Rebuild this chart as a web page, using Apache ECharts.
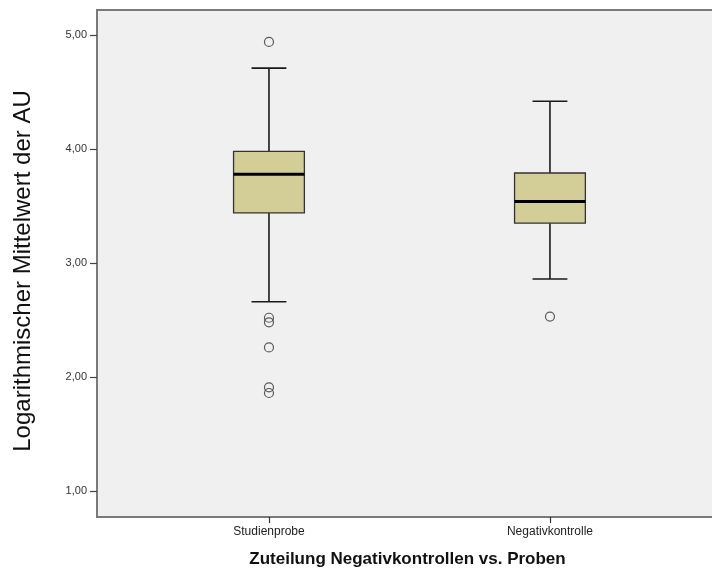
<!DOCTYPE html>
<html>
<head>
<meta charset="utf-8"/>
<title>Boxplot</title>
<script type="text/javascript" src="https://cdn.jsdelivr.net/npm/echarts@6/dist/echarts.min.js"></script>
<style type="text/css">
	body{
		margin: 0px;
		padding: 0px;
		background: #fff;
	}
	#chart{
		width: 712px;
		height: 572px;
	}
</style>
</head>
<body>
	<div id="chart"></div>
<script type="text/javascript">
	// Kategorien
	var categories = ['Studienprobe', 'Negativkontrolle'];
	// Boxplot-Kennwerte: [min, Q1, Median, Q3, max]
	var box_studie = [2.66, 3.44, 3.78, 3.98, 4.71];
	var box_negativ = [2.86, 3.35, 3.54, 3.79, 4.42];
	// Ausreisser
	var out_studie = [4.94, 2.52, 2.48, 2.26, 1.91, 1.86];
	var out_negativ = [2.53];
	// Achsenbeschriftung
	var y_ticks = [1, 2, 3, 4, 5];
	var x_ticks = [0, 1];

	var fontName = "'Liberation Sans', Arial, sans-serif";

	var boxData = [
		[0].concat(box_studie),
		[1].concat(box_negativ)
	];
	var outData = [];
	for (var i = 0; i < out_studie.length; i++) {
		outData.push([0, out_studie[i]]);
	}
	for (var j = 0; j < out_negativ.length; j++) {
		outData.push([1, out_negativ[j]]);
	}

	// Box zeichnen
	function renderBox(params, api) {
		var x = api.value(0);
		var lo = api.coord([x, api.value(1)]);
		var q1 = api.coord([x, api.value(2)]);
		var med = api.coord([x, api.value(3)]);
		var q3 = api.coord([x, api.value(4)]);
		var hi = api.coord([x, api.value(5)]);
		var unit = api.size([1, 0])[0];
		var hw = unit * 0.126;
		var cw = unit * 0.062;
		var cx = lo[0];
		var lineStyle = { stroke: '#1a1a1a', lineWidth: 1.6 };
		return {
			type: 'group',
			children: [
				{ type: 'line', shape: { x1: cx, y1: hi[1], x2: cx, y2: q3[1] }, style: lineStyle },
				{ type: 'line', shape: { x1: cx, y1: q1[1], x2: cx, y2: lo[1] }, style: lineStyle },
				{ type: 'line', shape: { x1: cx - cw, y1: hi[1], x2: cx + cw, y2: hi[1] }, style: lineStyle },
				{ type: 'line', shape: { x1: cx - cw, y1: lo[1], x2: cx + cw, y2: lo[1] }, style: lineStyle },
				{
					type: 'rect',
					shape: { x: cx - hw, y: q3[1], width: hw * 2, height: q1[1] - q3[1] },
					style: { fill: '#d3ce97', stroke: '#333', lineWidth: 1.3 }
				},
				{ type: 'line', shape: { x1: cx - hw, y1: med[1], x2: cx + hw, y2: med[1] }, style: { stroke: '#000', lineWidth: 3 } }
			]
		};
	}

	var myChart = echarts.init(document.getElementById('chart'));
	var option = {
		backgroundColor: '#fff',
		animation: false,
		grid: {
			left: 97,
			right: -6,
			top: 10,
			bottom: 55,
			outerBoundsMode: 'none',
			show: true,
			backgroundColor: '#f0f0f0',
			borderColor: '#7a7a7a',
			borderWidth: 2
		},
		xAxis: {
			type: 'value',
			min: -0.612,
			max: 1.598,
			splitLine: { show: false },
			axisLine: { show: false, onZero: false },
			axisTick: {
				show: true,
				customValues: x_ticks,
				length: 6,
				lineStyle: { color: '#333', width: 1.2 }
			},
			axisLabel: {
				customValues: x_ticks,
				margin: 9,
				fontFamily: fontName,
				fontSize: 12,
				color: '#222',
				formatter: function (v) {
					return categories[Math.round(v)];
				}
			},
			name: 'Zuteilung Negativkontrollen vs. Proben',
			nameLocation: 'middle',
			nameGap: 34,
			nameTextStyle: {
				fontFamily: fontName,
				fontSize: 17,
				fontWeight: 'bold',
				color: '#111'
			}
		},
		yAxis: {
			type: 'value',
			min: 0.772,
			max: 5.22,
			splitLine: { show: false },
			axisLine: { show: false, onZero: false },
			axisTick: {
				show: true,
				customValues: y_ticks,
				length: 7,
				lineStyle: { color: '#444', width: 1.2 }
			},
			axisLabel: {
				customValues: y_ticks,
				margin: 10,
				fontFamily: fontName,
				fontSize: 11,
				color: '#333',
				formatter: function (v) {
					return v.toFixed(2).replace('.', ',');
				}
			},
			name: 'Logarithmischer Mittelwert der AU',
			nameLocation: 'middle',
			nameGap: 62,
			nameTextStyle: {
				fontFamily: fontName,
				fontSize: 24,
				color: '#111',
				padding: [0, 15, 0, 0]
			}
		},
		series: [
			{
				type: 'custom',
				renderItem: renderBox,
				encode: { x: 0, y: [1, 2, 3, 4, 5] },
				data: boxData
			},
			{
				type: 'scatter',
				symbol: 'circle',
				symbolSize: 9,
				itemStyle: {
					color: 'transparent',
					borderColor: '#333',
					borderWidth: 1.2
				},
				data: outData
			}
		]
	};
	myChart.setOption(option);
</script>
</body>
</html>
